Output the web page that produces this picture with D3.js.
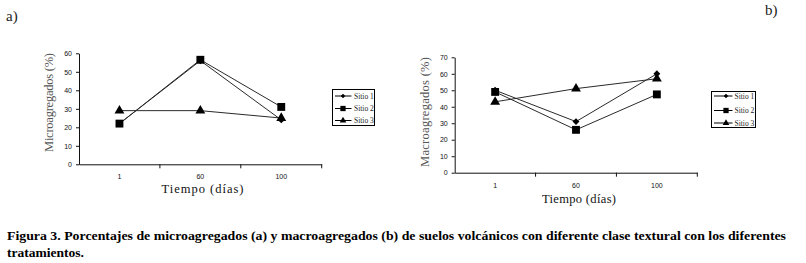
<!DOCTYPE html>
<html>
<head>
<meta charset="utf-8">
<script src="https://cdn.jsdelivr.net/npm/d3@7"></script>
<style>
  body { margin: 0; background: #fff; }
  svg { display: block; }
</style>
</head>
<body>
<svg id="fig" width="806" height="263"></svg>
<script>
// tiempo (dias) categories
var dias = ["1", "60", "100"]
var sitios = ["Sitio 1", "Sitio 2", "Sitio 3"]

// a) microagregados (%)
var microSitio1 = [22, 56, 24]
var microSitio2 = [22, 56.5, 31]
var microSitio3 = [29, 29, 25]
var microTicks = [0, 10, 20, 30, 40, 50, 60]

// b) macroagregados (%)
var macroSitio1 = [50, 31, 60]
var macroSitio2 = [49, 26, 47.5]
var macroSitio3 = [43, 51, 57]
var macroTicks = [0, 10, 20, 30, 40, 50, 60, 70]

var svg = d3.select("#fig")
var serif = "'Liberation Serif', 'Times New Roman', serif"
var sans = "'Liberation Sans', Arial, sans-serif"
var lineColor = "#2a2a2a"
var symbols = [d3.symbolDiamond2, d3.symbolSquare, d3.symbolTriangle]
var symbolSizes = [30, 62, 42]

function drawPanel(cfg) {
    var x = d3.scaleBand().domain(dias).range([cfg.left, cfg.right]).padding(0)
    var y = d3.scaleLinear().domain([0, cfg.max]).range([cfg.bottom, cfg.top])

    var g = svg.append("g")

    // y axis
    var yAxis = g.append("g")
        .attr("transform", `translate(${cfg.left},0)`)
        .call(d3.axisLeft(y).tickValues(cfg.ticks).tickSize(3).tickSizeOuter(0).tickPadding(4))
    yAxis.selectAll("text").attr("font-family", sans).attr("font-size", 7).attr("fill", "#111")
    yAxis.selectAll("line, path").attr("stroke", "#111")

    // x axis (labels centred in bands, ticks at band edges)
    var xAxis = g.append("g")
        .attr("transform", `translate(0,${cfg.bottom})`)
        .call(d3.axisBottom(x).tickSize(0).tickSizeOuter(0).tickPadding(10))
    xAxis.selectAll("text").attr("font-family", sans).attr("font-size", 7).attr("fill", "#111")
    xAxis.select("path").attr("stroke", "#111")
    var edges = dias.map(d => x(d) + x.bandwidth())
    xAxis.selectAll("line.edge")
        .data(edges)
        .enter()
        .append("line")
        .attr("class", "edge")
        .attr("x1", d => d).attr("x2", d => d)
        .attr("y1", 0).attr("y2", 4)
        .attr("stroke", "#111")

    var line = d3.line()
        .x((d, i) => x(dias[i]) + x.bandwidth() / 2)
        .y(d => y(d))

    cfg.series.forEach(s => {
        g.append("path")
            .datum(s)
            .attr("d", line)
            .attr("fill", "none")
            .attr("stroke", lineColor)
            .attr("stroke-width", 1)
    })
    cfg.series.forEach((s, k) => {
        g.selectAll(null)
            .data(s)
            .enter()
            .append("path")
            .attr("d", d3.symbol().type(symbols[k]).size(symbolSizes[k]))
            .attr("transform", (d, i) => `translate(${x(dias[i]) + x.bandwidth() / 2},${y(d)})`)
            .attr("fill", "#000")
    })

    // axis titles
    g.append("text")
        .attr("x", cfg.xLabelX)
        .attr("y", cfg.xLabelY)
        .attr("text-anchor", "middle")
        .attr("font-family", serif)
        .attr("font-size", 12.5)
        .attr("textLength", cfg.xLabelLen)
        .attr("fill", "#111")
        .text("Tiempo (días)")
    g.append("text")
        .attr("transform", `translate(${cfg.yLabelX},${cfg.yLabelY}) rotate(-90)`)
        .attr("text-anchor", "middle")
        .attr("font-family", serif)
        .attr("font-size", 12.5)
        .attr("textLength", cfg.yLabelLen)
        .attr("fill", "#555")
        .text(cfg.yLabel)

    // legend
    var lg = g.append("g").attr("transform", `translate(${cfg.legend.x},${cfg.legend.y})`)
    lg.append("rect")
        .attr("width", cfg.legend.w).attr("height", cfg.legend.h)
        .attr("fill", "#fff").attr("stroke", "#000").attr("stroke-width", 1)
    sitios.forEach((name, k) => {
        var ry = cfg.legend.rows[k]
        lg.append("line")
            .attr("x1", cfg.legend.lx1).attr("x2", cfg.legend.lx2)
            .attr("y1", ry).attr("y2", ry)
            .attr("stroke", "#000")
        lg.append("path")
            .attr("d", d3.symbol().type(symbols[k]).size(symbolSizes[k] * 0.45))
            .attr("transform", `translate(${cfg.legend.mx},${ry})`)
            .attr("fill", "#000")
        lg.append("text")
            .attr("x", cfg.legend.tx).attr("y", ry + 2.5)
            .attr("font-family", serif)
            .attr("font-size", 7.5)
            .attr("fill", "#222")
            .text(name)
    })
}

drawPanel({
    left: 79, right: 321.7, top: 53.3, bottom: 164.3, max: 60, ticks: microTicks,
    series: [microSitio1, microSitio2, microSitio3],
    xLabelX: 202.5, xLabelY: 193, xLabelLen: 82,
    yLabel: "Microagregados (%)", yLabelX: 53, yLabelY: 102.5, yLabelLen: 99,
    legend: { x: 332.5, y: 89.5, w: 42, h: 36, rows: [6.5, 19, 31], lx1: 2.5, lx2: 19, mx: 10.5, tx: 21.5 }
})

drawPanel({
    left: 454.7, right: 697.3, top: 57.3, bottom: 172.7, max: 70, ticks: macroTicks,
    series: [macroSitio1, macroSitio2, macroSitio3],
    xLabelX: 579, xLabelY: 203, xLabelLen: 74,
    yLabel: "Macroagregados (%)", yLabelX: 429, yLabelY: 112, yLabelLen: 110,
    legend: { x: 711.5, y: 91.5, w: 44, h: 36, rows: [4.5, 19, 31.5], lx1: 2.5, lx2: 21, mx: 14.5, tx: 23 }
})

// panel letters
svg.append("text").attr("x", 6).attr("y", 21)
    .attr("font-family", serif).attr("font-size", 15).attr("fill", "#222")
    .text("a)")
svg.append("text").attr("x", 765).attr("y", 15)
    .attr("font-family", serif).attr("font-size", 15).attr("fill", "#222")
    .text("b)")

// caption
var caption = svg.append("text")
    .attr("font-family", serif)
    .attr("font-size", 13.5)
    .attr("font-weight", "bold")
    .attr("fill", "#000")
caption.append("tspan").attr("x", 7).attr("y", 240)
    .attr("textLength", 779).attr("lengthAdjust", "spacingAndGlyphs")
    .text("Figura 3. Porcentajes de microagregados (a) y macroagregados (b) de suelos volcánicos con diferente clase textural con los diferentes")
caption.append("tspan").attr("x", 7).attr("y", 257)
    .attr("textLength", 77).attr("lengthAdjust", "spacingAndGlyphs")
    .text("tratamientos.")
</script>
</body>
</html>
